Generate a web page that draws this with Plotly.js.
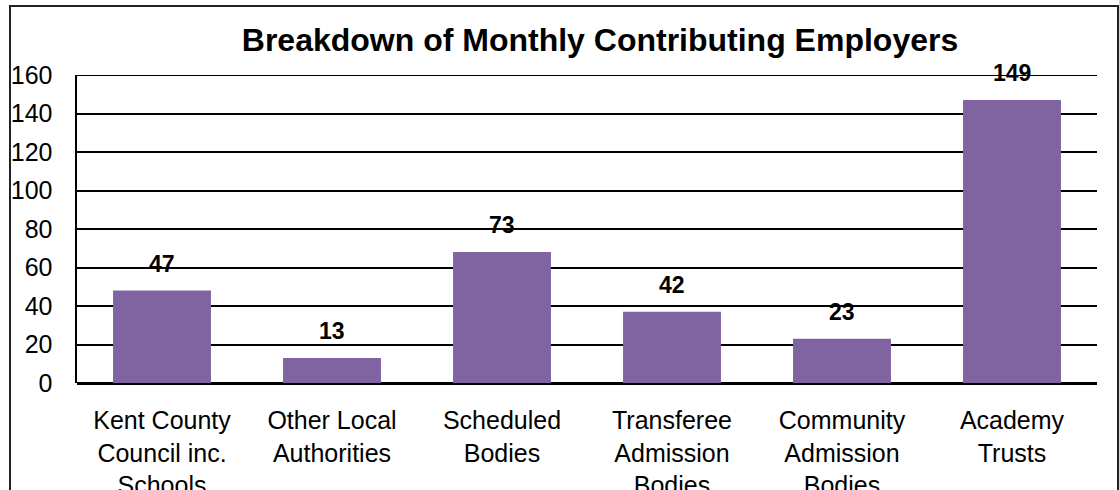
<!DOCTYPE html>
<html>
<head>
<meta charset="utf-8">
<script src="https://cdn.plot.ly/plotly-3.0.1.min.js"></script>
<style>
html,body{margin:0;padding:0;background:#fff;overflow:hidden;}
#wrap{position:relative;width:1119px;height:490px;}
#chart{position:absolute;left:0;top:0;width:1119px;height:490px;}
#frame{position:absolute;left:9px;top:5px;width:1106px;height:600px;border:2px solid #222;pointer-events:none;}
</style>
</head>
<body>
<div id="wrap"><div id="chart"></div><div id="frame"></div></div>
<script>
const categories = [
  "Kent County<br>Council inc.<br>Schools",
  "Other Local<br>Authorities",
  "Scheduled<br>Bodies",
  "Transferee<br>Admission<br>Bodies",
  "Community<br>Admission<br>Bodies",
  "Academy<br>Trusts"
];
const barValues = [48, 13, 68, 37, 23, 147];
const labelValues = ["47", "13", "73", "42", "23", "149"];
const yTicks = [0, 20, 40, 60, 80, 100, 120, 140, 160];
const yMax = 160;

const trace = {
  type: 'bar',
  x: categories,
  y: barValues,
  marker: {color: '#8064A2', line: {width: 0}},
  hoverinfo: 'none'
};

const annotations = categories.map((c, i) => ({
  x: c, y: barValues[i], xref: 'x', yref: 'y',
  text: '<b>' + labelValues[i] + '</b>',
  showarrow: false, yshift: 27, yanchor: 'middle',
  font: {family: 'Liberation Sans, Arial, sans-serif', size: 23, color: '#000'}
}));

const layout = {
  width: 1119, height: 490,
  margin: {l: 77, r: 22, t: 75, b: 107, pad: 0},
  paper_bgcolor: '#fff', plot_bgcolor: '#fff',
  showlegend: false,
  bargap: 0.424,
  font: {family: 'Liberation Sans, Arial, sans-serif', color: '#000', size: 24},
  title: {
    text: '<b>Breakdown of Monthly Contributing Employers</b>',
    x: (600 - 77) / 1020, xanchor: 'center', xref: 'paper',
    y: 1 - 40/490, yanchor: 'middle',
    font: {family: 'Liberation Sans, Arial, sans-serif', size: 32, color: '#000'}
  },
  xaxis: {
    type: 'category',
    showgrid: false, zeroline: false,
    showline: false,
    ticks: 'outside', ticklen: 15, tickcolor: 'rgba(0,0,0,0)',
    tickfont: {size: 25, color: '#000'},
    fixedrange: true
  },
  yaxis: {
    range: [0, yMax],
    tickvals: yTicks,
    ticktext: yTicks.map(String),
    showgrid: true, gridcolor: '#000', gridwidth: 2,
    zeroline: true, zerolinecolor: '#000', zerolinewidth: 3,
    showline: true, linecolor: '#000', linewidth: 2.5,
    ticks: 'outside', ticklen: 17, tickcolor: 'rgba(0,0,0,0)',
    tickfont: {size: 25, color: '#000'},
    fixedrange: true
  },
  shapes: [{
    type: 'line', xref: 'paper', yref: 'y',
    x0: 0, x1: 1, y0: yMax, y1: yMax,
    line: {color: '#000', width: 2}, layer: 'below'
  }],
  annotations: annotations
};

Plotly.newPlot('chart', [trace], layout, {staticPlot: true, displayModeBar: false});
</script>
</body>
</html>
